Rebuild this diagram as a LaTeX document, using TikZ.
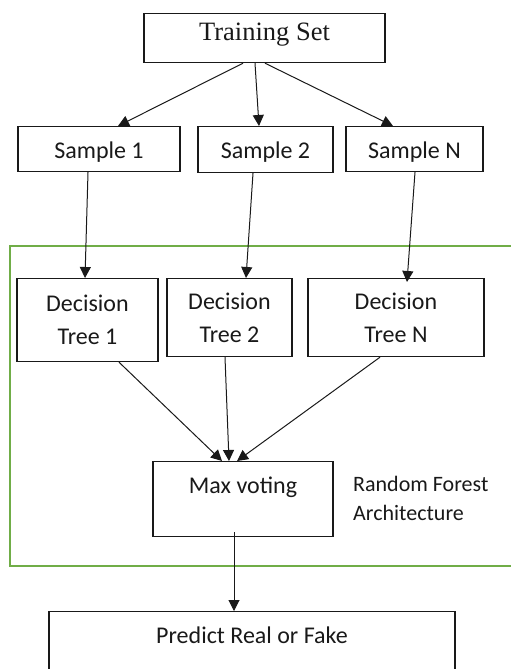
\documentclass[tikz,border=0pt]{standalone}
\usepackage{fontspec}
\setmainfont{Carlito}
\newfontfamily\serifF{Liberation Serif}
\usetikzlibrary{arrows.meta}
\definecolor{rfgreen}{RGB}{112,173,71}
\definecolor{ink}{RGB}{25,25,25}
\begin{document}
\begin{tikzpicture}[x=1pt,y=-1pt,
  box/.style={draw=ink, line width=1.2pt, inner xsep=0pt, inner ysep=0pt, anchor=north, text=ink,
              font=\fontsize{24}{33}\selectfont},
  arr/.style={draw=ink, line width=1pt, -{Triangle[length=11pt,width=11pt]}},
  side/.style={anchor=north west, align=left, inner sep=0pt, text=ink, font=\fontsize{22}{29}\selectfont}]
\useasboundingbox (0,0) rectangle (511,669);
\clip (0,0) rectangle (511,669);
% random forest frame
\draw[rfgreen, line width=2.6pt] (10,246) rectangle (540,566);
% nodes
\node[box, minimum width=241pt, minimum height=49pt, text height=27pt, text depth=22pt,
      font=\serifF\fontsize{26.5}{32}\selectfont] (ts) at (264.5,13) {Training Set};
\node[box, minimum width=162pt, minimum height=45pt, text height=32pt, text depth=13pt] (s1) at (99,126) {Sample 1};
\node[box, minimum width=135pt, minimum height=46pt, text height=32pt, text depth=14pt] (s2) at (265.5,126) {Sample 2};
\node[box, minimum width=137pt, minimum height=45pt, text height=32pt, text depth=13pt] (sN) at (414.5,126) {Sample N};
\node[box, align=center, minimum width=141pt, minimum height=83pt] (d1) at (87.5,278) {Decision\\Tree 1};
\node[box, align=center, minimum width=125pt, minimum height=78pt] (d2) at (229.5,278) {Decision\\Tree 2};
\node[box, align=center, minimum width=176pt, minimum height=78pt] (dN) at (396,278) {Decision\\Tree N};
\node[box, minimum width=180pt, minimum height=75pt, text height=32pt, text depth=43pt] (mv) at (243,461) {Max voting};
\node[box, minimum width=406pt, minimum height=90pt, text height=32pt, text depth=58pt] (pr) at (252,611) {Predict Real or Fake};
\node[side] (rf) at (353,476) {Random Forest\\Architecture};
% connectors
\draw[arr] ([xshift=-21.5pt]ts.south) -- ([xshift=19pt]s1.north);
\draw[arr] ([xshift=-9.5pt]ts.south) -- ([xshift=-6.5pt]s2.north);
\draw[arr] ([xshift=0.5pt]ts.south) -- ([xshift=-21.5pt]sN.north);
\draw[arr] ([xshift=-11pt]s1.south) -- ([xshift=-2.5pt]d1.north);
\draw[arr] ([xshift=-12.5pt]s2.south) -- ([xshift=16.5pt]d2.north);
\draw[arr] ([xshift=0.5pt]sN.south) -- ([xshift=11pt,yshift=-4pt]dN.north);
\draw[arr] ([xshift=31.5pt]d1.south) -- ([xshift=-21pt]mv.north);
\draw[arr] ([xshift=-4.5pt]d2.south) -- ([xshift=-14pt]mv.north);
\draw[arr] ([xshift=-16pt]dN.south) -- ([xshift=-6pt]mv.north);
\draw[arr] ([xshift=-9pt,yshift=5pt]mv.south) -- ([xshift=-18pt]pr.north);
\end{tikzpicture}
\end{document}
